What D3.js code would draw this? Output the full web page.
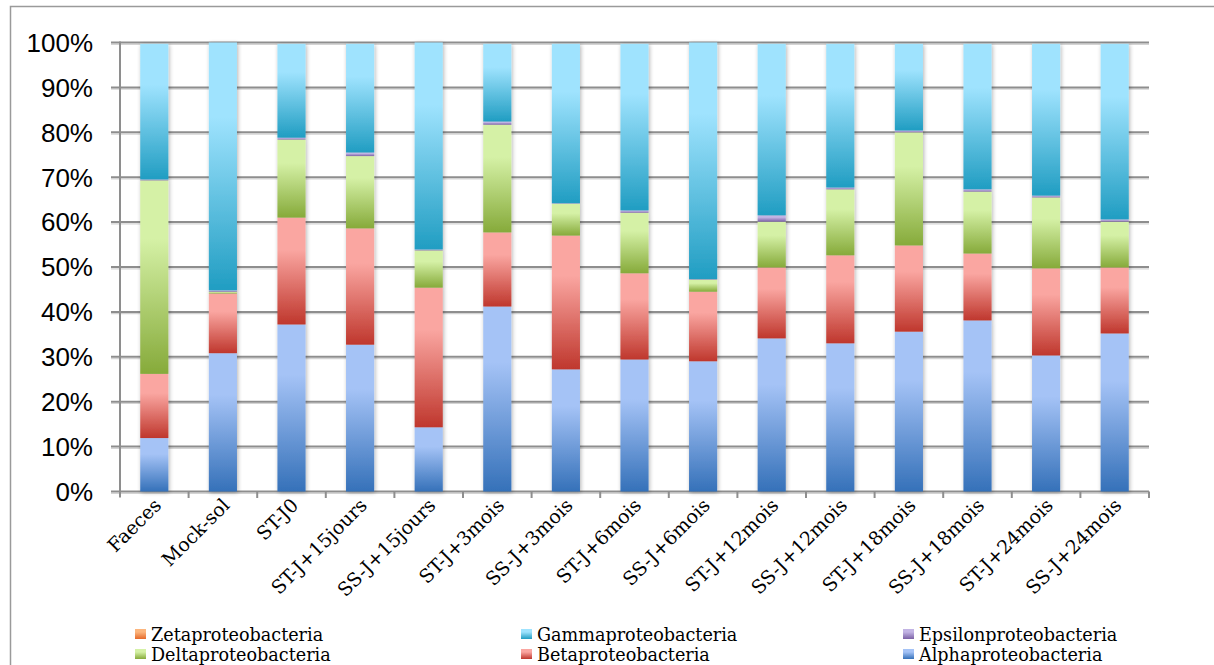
<!DOCTYPE html>
<html>
<head>
<meta charset="utf-8">
<script src="https://cdnjs.cloudflare.com/ajax/libs/d3/7.8.5/d3.min.js"></script>
<style>
html,body{margin:0;padding:0;background:#fff;}
svg{display:block;}
</style>
</head>
<body>
<svg id="chart" width="1214" height="665"></svg>
<script>
const categories = ["Faeces","Mock-sol","ST-J0","ST-J+15jours","SS-J+15jours","ST-J+3mois","SS-J+3mois","ST-J+6mois","SS-J+6mois","ST-J+12mois","SS-J+12mois","ST-J+18mois","SS-J+18mois","ST-J+24mois","SS-J+24mois"];
const alpha   = [11.9, 30.8, 37.2, 32.7, 14.3, 41.2, 27.2, 29.4, 29.0, 34.1, 33.0, 35.6, 38.1, 30.3, 35.2];
const beta    = [14.3, 13.3, 23.8, 25.9, 31.1, 16.5, 29.8, 19.2, 15.5, 15.8, 19.6, 19.2, 14.9, 19.4, 14.7];
const delta   = [43.1,  0.4, 17.4, 16.1,  8.3, 24.0,  7.1, 13.5,  2.7, 10.2, 14.7, 25.2, 13.8, 15.8, 10.2];
const epsilon = [ 0.2,  0.3,  0.4,  0.8,  0.2,  0.7,  0.1,  0.5,  0.1,  1.4,  0.4,  0.4,  0.5,  0.4,  0.5];
const gamma   = [30.2, 55.2, 20.9, 24.2, 46.1, 17.3, 35.5, 37.1, 52.7, 38.2, 32.0, 19.3, 32.4, 33.8, 39.1];
const zeta    = [ 0,    0,    0,    0,    0,    0,    0,    0,    0,    0,    0,    0,    0,    0,    0  ];
const yTicks  = [0,10,20,30,40,50,60,70,80,90,100];
const seriesNames = ["Alphaproteobacteria","Betaproteobacteria","Deltaproteobacteria","Epsilonproteobacteria","Gammaproteobacteria","Zetaproteobacteria"];
const seriesValues = [alpha, beta, delta, epsilon, gamma, zeta];
const legendOrder = ["Zetaproteobacteria","Gammaproteobacteria","Epsilonproteobacteria","Deltaproteobacteria","Betaproteobacteria","Alphaproteobacteria"];

const colors = {
  "Alphaproteobacteria":  ["#a5c3f6", "#3571b9"],
  "Betaproteobacteria":   ["#faa6a1", "#bf372d"],
  "Deltaproteobacteria":  ["#d5f1a6", "#86aa3a"],
  "Epsilonproteobacteria":["#c2b4e4", "#7b61a6"],
  "Gammaproteobacteria":  ["#9fe3fe", "#209dc2"],
  "Zetaproteobacteria":   ["#fcb67e", "#e5692a"]
};

const table = categories.map((c,i) => {
  const row = {category: c};
  seriesNames.forEach((s,j) => row[s] = seriesValues[j][i]);
  return row;
});

const svg = d3.select("#chart");
const defs = svg.append("defs");

seriesNames.forEach((s,i) => {
  const g = defs.append("linearGradient").attr("id","grad"+i)
    .attr("x1",0).attr("y1",0).attr("x2",0).attr("y2",1);
  g.append("stop").attr("offset","0").attr("stop-color",colors[s][0]);
  g.append("stop").attr("offset","0.3").attr("stop-color",colors[s][0]);
  g.append("stop").attr("offset","1").attr("stop-color",colors[s][1]);
});

const f = defs.append("filter").attr("id","shadow")
  .attr("x","-50%").attr("y","-5%").attr("width","200%").attr("height","110%");
f.append("feGaussianBlur").attr("in","SourceAlpha").attr("stdDeviation",2.2).attr("result","b");
f.append("feOffset").attr("in","b").attr("dx",0.5).attr("dy",0.5).attr("result","o");
f.append("feComponentTransfer").attr("in","o").attr("result","s")
  .append("feFuncA").attr("type","linear").attr("slope",0.3);
const fm = f.append("feMerge");
fm.append("feMergeNode").attr("in","s");
fm.append("feMergeNode").attr("in","SourceGraphic");

// outer frame
svg.append("rect").attr("x",10.5).attr("y",6.5).attr("width",1240).attr("height",700)
  .attr("fill","none").attr("stroke","#9a9a9a").attr("stroke-width",1.5);

const plotLeft = 120, plotRight = 1149, plotTop = 42.5, plotBottom = 491.5;
const x = d3.scaleBand().domain(categories).range([plotLeft,plotRight]).paddingInner(0.59).paddingOuter(0.295);
const xStep = d3.scaleBand().domain(categories).range([plotLeft,plotRight]);
const y = d3.scaleLinear().domain([0,100]).range([plotBottom, plotTop]);

// gridlines
const grid = svg.append("g");
yTicks.forEach(t => {
  grid.append("line").attr("x1",111).attr("x2",plotRight).attr("y1",y(t)+1.8).attr("y2",y(t)+1.8)
    .attr("stroke","#d4d4d4").attr("stroke-width",1.2);
  grid.append("line").attr("x1",111).attr("x2",plotRight).attr("y1",y(t)).attr("y2",y(t))
    .attr("stroke","#8e8e8e").attr("stroke-width",2);
});

// y axis line
svg.append("line").attr("x1",plotLeft).attr("x2",plotLeft).attr("y1",plotTop-1).attr("y2",plotBottom+6)
  .attr("stroke","#8e8e8e").attr("stroke-width",2);

// x ticks
categories.forEach((c,i) => {
  const xs = [xStep(c)];
  if (i === categories.length-1) xs.push(xStep(c)+xStep.step());
  xs.forEach(xx => {
    if (xx === plotLeft) return;
    svg.append("line").attr("x1",xx).attr("x2",xx).attr("y1",plotBottom).attr("y2",plotBottom+6.5)
      .attr("stroke","#8e8e8e").attr("stroke-width",2);
  });
});

// y labels
svg.append("g").selectAll("text").data(yTicks).join("text")
  .attr("x",93).attr("y",d => y(d)).attr("dy","0.36em")
  .attr("text-anchor","end")
  .attr("font-family","'Liberation Sans', Arial, sans-serif")
  .attr("font-size",26).attr("fill","#000")
  .text(d => d + "%");

// stacked bars
const stack = d3.stack().keys(seriesNames);
const stacked = stack(table);
const bars = svg.append("g");
categories.forEach((c,i) => {
  const g = bars.append("g").attr("filter","url(#shadow)");
  stacked.forEach((layer,j) => {
    const d = layer[i];
    const h = y(d[0]) - y(d[1]);
    if (h <= 0) return;
    g.append("rect")
      .attr("x", x(c)).attr("width", x.bandwidth())
      .attr("y", y(d[1])).attr("height", h)
      .attr("fill", "url(#grad"+j+")");
  });
});

// x labels
svg.append("g").selectAll("text").data(categories).join("text")
  .attr("transform", d => `translate(${x(d)+x.bandwidth()/2+8},${plotBottom+15}) rotate(-45)`)
  .attr("text-anchor","end")
  .attr("font-family","'DejaVu Serif', serif")
  .attr("font-size",19).attr("fill","#000")
  .text(d => d);

// legend
const legX = [135, 521, 903];
const legY = [641, 661];
legendOrder.forEach((s,k) => {
  const col = k % 3, row = Math.floor(k/3);
  const j = seriesNames.indexOf(s);
  svg.append("rect").attr("x",legX[col]).attr("y",legY[row]-12).attr("width",11).attr("height",10)
    .attr("fill","url(#grad"+j+")");
  svg.append("text").attr("x",legX[col]+16).attr("y",legY[row])
    .attr("font-family","'DejaVu Serif', serif").attr("font-size",17.6).attr("fill","#000")
    .text(s);
});
</script>
</body>
</html>
